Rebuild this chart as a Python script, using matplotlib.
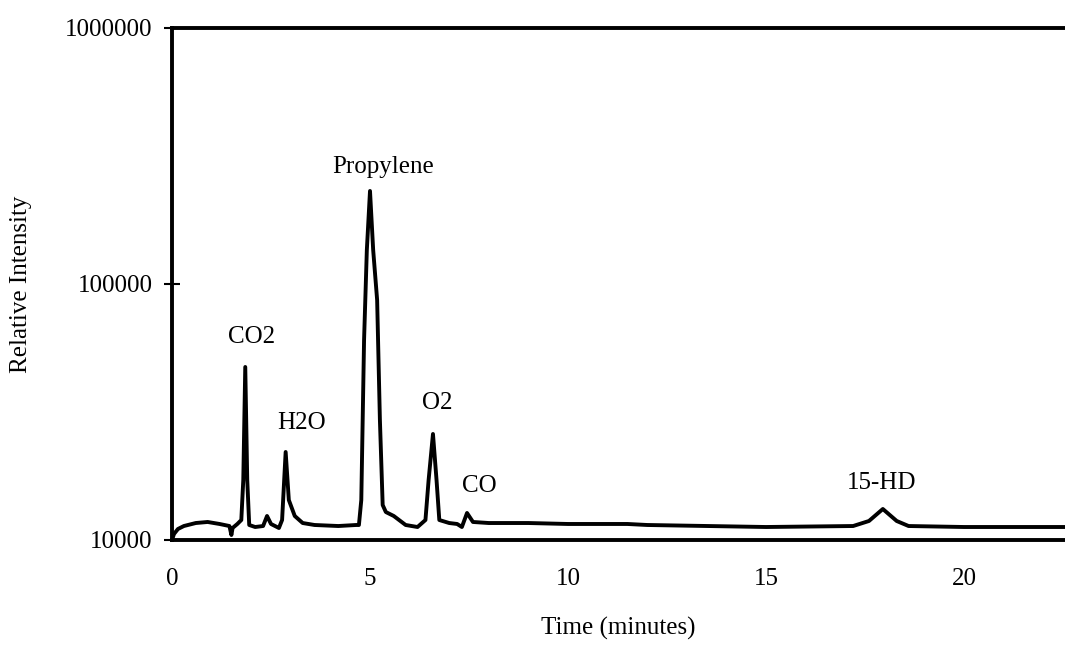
import numpy as np
import matplotlib
matplotlib.use("Agg")
import matplotlib.pyplot as plt

plt.rcParams['font.family'] = ['Liberation Serif', 'DejaVu Serif']

############################################################################
# chromatogram trace (time in minutes, relative intensity)
t_min = [0.00, 0.05, 0.15, 0.30, 0.60, 0.90, 1.20, 1.45, 1.50, 1.53, 1.65, 1.75,
         1.80, 1.85, 1.90, 1.95, 2.10, 2.30, 2.40, 2.50, 2.70, 2.78, 2.87, 2.95,
         3.10, 3.30, 3.60, 4.20, 4.65, 4.72, 4.78, 4.85, 4.92, 5.00, 5.08, 5.18,
         5.25, 5.32, 5.40, 5.60, 5.90, 6.20, 6.40, 6.48, 6.59, 6.68, 6.75, 7.00,
         7.20, 7.32, 7.45, 7.60, 8.00, 9.00, 10.00, 11.50, 12.00, 15.00, 17.20,
         17.60, 17.95, 18.30, 18.60, 20.00, 22.60]
intensity = [10000, 10555, 11040, 11340, 11650, 11760, 11550, 11340, 10460, 11140,
             11550, 11970, 17150, 47410, 17150, 11445, 11240, 11340, 12410, 11550,
             11140, 11970, 22070, 14330, 12410, 11650, 11445, 11340, 11445, 11445,
             14330, 60430, 135800, 230900, 135800, 86600, 29430, 13700, 12860, 12410,
             11445, 11240, 11970, 17150, 25950, 17150, 11970, 11650, 11550, 11240,
             12750, 11760, 11650, 11650, 11550, 11550, 11445, 11240, 11340, 11865,
             13215, 11865, 11340, 11240, 11240]

# peak labels
peak_names = ["CO2", "H2O", "Propylene", "O2", "CO", "15-HD"]
peak_t = [2.02, 3.28, 5.33, 6.69, 7.77, 17.93]
peak_y = [62100, 28650, 286400, 34280, 16260, 16700]

x_max = 22.55
y_ticks = [10000, 100000, 1000000]
x_ticks = [0, 5, 10, 15, 20]
############################################################################

fig = plt.figure(figsize=(10.65, 6.45), dpi=100)
ax = fig.add_axes([172/1065, 1 - 540/645, 1 - 172/1065, 512/645])

ax.plot(t_min, intensity, color='black', lw=2.8, solid_joinstyle='round')

for name, t, y in zip(peak_names, peak_t, peak_y):
    ax.text(t, y, name, ha='center', va='center', fontsize=18)

ax.set_yscale('log')
ax.set_ylim(10000, 1000000)
ax.set_xlim(0, x_max)
ax.set_yticks(y_ticks)
ax.set_yticklabels([str(v) for v in y_ticks])
ax.yaxis.set_minor_locator(matplotlib.ticker.NullLocator())
ax.set_xticks(x_ticks)
ax.set_xticklabels([str(v) for v in x_ticks])

ax.tick_params(axis='y', direction='inout', length=12, width=1.5, pad=8, labelsize=18)
ax.tick_params(axis='x', length=0, pad=20, labelsize=18)

for s in ['left', 'bottom', 'top']:
    ax.spines[s].set_linewidth(2.8)
ax.spines['right'].set_visible(False)

ax.set_xlabel("Time (minutes)", fontsize=18)
ax.set_ylabel("Relative Intensity", fontsize=18)
ax.xaxis.set_label_coords(0.5, -0.15)
ax.yaxis.set_label_coords(-0.157, 0.5)

fig.savefig("out.png", dpi=100)
